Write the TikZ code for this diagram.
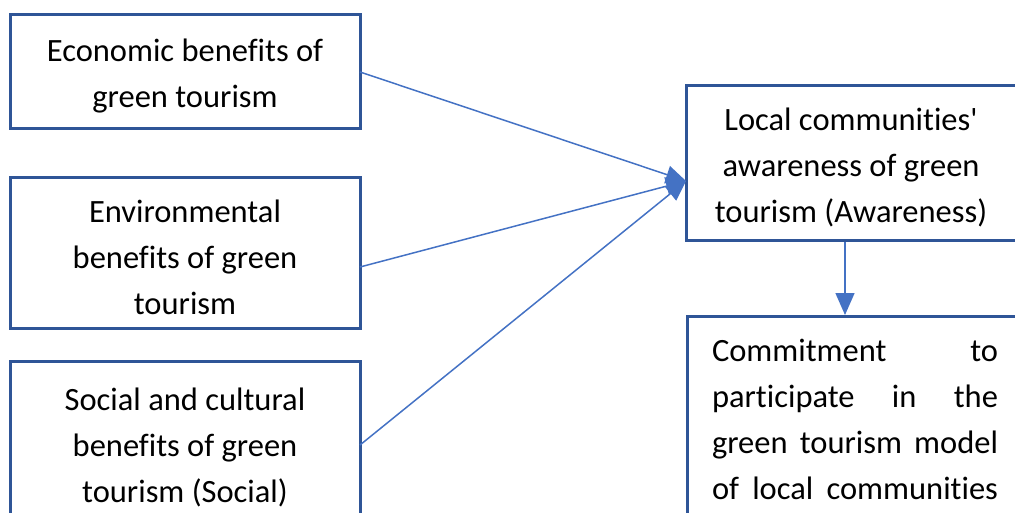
\documentclass[tikz,border=0pt]{standalone}
\usepackage{fontspec}
\setmainfont{Carlito}[Ligatures={CommonOff}]
\usetikzlibrary{arrows.meta}
\definecolor{boxblue}{HTML}{2F5597}
\definecolor{lineblue}{HTML}{4472C4}
\newcommand{\topgap}{\rule{0pt}{32pt}}
\begin{document}
\begin{tikzpicture}[x=1pt,y=-1pt,
  box/.style={draw=boxblue,line width=3pt,rectangle,inner sep=0pt,align=center,
    font=\fontsize{32.5}{46}\selectfont},
  txt/.style={inner sep=0pt,align=left,font=\fontsize{32.5}{46}\selectfont},
  conn/.style={draw=lineblue,line width=1.5pt,-{Triangle[length=20pt,width=18pt]}}]
\useasboundingbox (0,0) rectangle (1015,512);
\clip (0,0) rectangle (1015,512);
\node[box,minimum width=350pt,minimum height=114pt] (b1) at (185,71)
  {\topgap Economic benefits of\\green tourism};
\node[box,minimum width=350pt,minimum height=151pt] (b2) at (185,252.5)
  {\topgap Environmental\\benefits of green\\tourism};
\node[box,minimum width=350pt,minimum height=164pt] (b3) at (185,443)
  {\topgap Social and cultural\\benefits of green\\tourism (Social)};
\node[box,minimum width=330pt,minimum height=155pt] (aw) at (851,162.5)
  {\topgap Local communities\textquotesingle\\awareness of green\\tourism (Awareness)};
\node[box,minimum width=330pt,minimum height=260pt,anchor=north west] (cm) at (686,315) {};
\node[txt,anchor=center] (cmt) at (855,419)
  {\makebox[286pt][s]{Commitment to}\\
   \makebox[286pt][s]{participate in the}\\
   \makebox[286pt][s]{green tourism model}\\
   \makebox[286pt][s]{of local communities}};
\coordinate (s1) at (360,72);
\coordinate (s2) at (360,267);
\coordinate (s3) at (360,445);
\coordinate (t) at (686,181);
\draw[conn] (s1) -- (t);
\draw[conn] (s2) -- (t);
\draw[conn] (s3) -- (t);
\draw[conn,-{Triangle[length=22pt,width=19pt]}] (aw.south -| 845,0) -- (cm.north -| 845,0);
\end{tikzpicture}
\end{document}
